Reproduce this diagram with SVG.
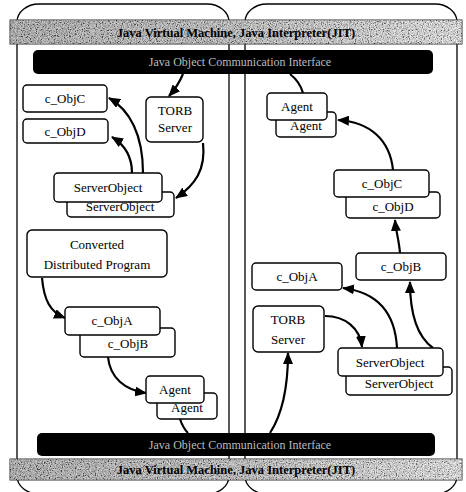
<svg xmlns="http://www.w3.org/2000/svg" width="466" height="492" viewBox="0 0 466 492">
<style>
.col{fill:none;stroke:#000;stroke-width:1.3}
.box{fill:#fff;stroke:#000;stroke-width:1.4}
.t{font-family:"Liberation Serif","Times New Roman",serif;font-size:13px;fill:#000;text-anchor:middle}
.bar{fill:#000}
.bt{font-family:"Liberation Serif",serif;font-size:12px;fill:#bbb;text-anchor:middle}
.gt{font-family:"Liberation Serif",serif;font-size:12.5px;font-weight:bold;fill:#000;text-anchor:middle}
.c{fill:none;stroke:#000;stroke-width:2.2}
.gb{fill:url(#g);stroke:#333;stroke-width:1}
.sp{fill:#000;filter:url(#speck)}
</style>
<defs>
<marker id="ah" viewBox="0 0 12 10" refX="11" refY="5" markerWidth="12" markerHeight="10" markerUnits="userSpaceOnUse" orient="auto">
<path d="M0,0 L12,5 L0,10 Z" fill="#000"/>
</marker>
<linearGradient id="g" x1="0" x2="1" y1="0" y2="0">
<stop offset="0" stop-color="#8c8c8c"/>
<stop offset="0.5" stop-color="#a6a6a6"/>
<stop offset="1" stop-color="#dcdcdc"/>
</linearGradient>
<filter id="speck" x="0" y="0" width="1" height="1">
<feTurbulence type="fractalNoise" baseFrequency="0.85" numOctaves="2" seed="3" result="n"/>
<feColorMatrix in="n" type="matrix" values="2.5 0 0 0 -0.7  2.5 0 0 0 -0.7  2.5 0 0 0 -0.7  0 0 0 0 0.5" result="m"/>
<feComposite in="m" in2="SourceGraphic" operator="in"/>
</filter>
</defs>
<rect width="466" height="492" fill="#fff"/>
<g id="columns">
<rect class="col" x="17" y="4" width="212" height="490" rx="22" ry="18"/>
<rect class="col" x="245" y="4" width="212" height="490" rx="22" ry="18"/>
</g>
<g id="jvm-top">
<rect class="gb" x="10" y="20" width="452" height="24"/>
<rect class="sp" x="10" y="20" width="452" height="24"/>
<text class="gt" x="236" y="37">Java Virtual Machine, Java Interpreter(JIT)</text>
</g>
<g id="interface-top">
<rect class="bar" x="33" y="50" width="400" height="24" rx="5"/>
<text class="bt" x="240" y="66">Java Object Communication Interface</text>
</g>
<g id="interface-bottom">
<rect class="bar" x="37" y="433" width="398" height="23" rx="5"/>
<text class="bt" x="240" y="449">Java Object Communication Interface</text>
</g>
<g id="jvm-bottom">
<rect class="gb" x="10" y="459" width="452" height="21"/>
<rect class="sp" x="10" y="459" width="452" height="21"/>
<text class="gt" x="236" y="474">Java Virtual Machine, Java Interpreter(JIT)</text>
</g>
<g id="connectors">
<path class="c" d="M183,74 Q178,86 169,96" marker-end="url(#ah)"/>
<path class="c" d="M203,143 C206,170 195,185 176,198" marker-end="url(#ah)"/>
<path class="c" d="M143,173 C143,135 130,110 109,98" marker-end="url(#ah)"/>
<path class="c" d="M132,173 C132,158 125,145 112,137" marker-end="url(#ah)"/>
<path class="c" d="M42,278 C44,300 50,312 65,318" marker-end="url(#ah)"/>
<path class="c" d="M108,357 C110,378 125,390 146,393" marker-end="url(#ah)"/>
<path class="c" d="M180,419 Q183,428 188,433"/>
<path class="c" d="M290,74 Q300,82 303,93"/>
<path class="c" d="M393,170 C390,140 370,122 338,120" marker-end="url(#ah)"/>
<path class="c" d="M400,253 C399,240 396,232 395,220" marker-end="url(#ah)"/>
<path class="c" d="M397,348 C395,310 375,292 343,288" marker-end="url(#ah)"/>
<path class="c" d="M433,348 C415,335 410,310 410,282" marker-end="url(#ah)"/>
<path class="c" d="M325,316 C345,316 360,328 362,347" marker-end="url(#ah)"/>
<path class="c" d="M270,433 C285,410 288,380 288,353" marker-end="url(#ah)"/>
</g>
<g id="l-objC"><rect class="box" x="23" y="85" width="84" height="27" rx="4"/><text class="t" x="65" y="103">c_ObjC</text></g>
<g id="l-objD"><rect class="box" x="23" y="119" width="85" height="24" rx="4"/><text class="t" x="65" y="136">c_ObjD</text></g>
<g id="l-torb"><rect class="box" x="146" y="97" width="57" height="45" rx="5"/><text class="t" x="175" y="115">TORB</text><text class="t" x="175" y="132">Server</text></g>
<g id="l-serverobject-2"><rect class="box" x="67" y="192" width="107" height="25" rx="4"/><text class="t" x="120" y="211">ServerObject</text></g>
<g id="l-serverobject-1"><rect class="box" x="54" y="173" width="108" height="29" rx="4"/><text class="t" x="108" y="192">ServerObject</text></g>
<g id="l-converted"><rect class="box" x="27" y="230" width="140" height="47" rx="5"/><text class="t" x="97" y="249">Converted</text><text class="t" x="97" y="269">Distributed Program</text></g>
<g id="l-objB"><rect class="box" x="80" y="328" width="95" height="29" rx="4"/><text class="t" x="128" y="348">c_ObjB</text></g>
<g id="l-objA"><rect class="box" x="65" y="307" width="95" height="28" rx="4"/><text class="t" x="112" y="325">c_ObjA</text></g>
<g id="l-agent-2"><rect class="box" x="157" y="393" width="60" height="26" rx="4"/><text class="t" x="187" y="412">Agent</text></g>
<g id="l-agent-1"><rect class="box" x="146" y="376" width="58" height="27" rx="4"/><text class="t" x="175" y="394">Agent</text></g>
<g id="r-agent-2"><rect class="box" x="276" y="112" width="60" height="25" rx="4"/><text class="t" x="306" y="130">Agent</text></g>
<g id="r-agent-1"><rect class="box" x="267" y="93" width="60" height="27" rx="4"/><text class="t" x="297" y="111">Agent</text></g>
<g id="r-objD"><rect class="box" x="346" y="192" width="94" height="26" rx="4"/><text class="t" x="393" y="211">c_ObjD</text></g>
<g id="r-objC"><rect class="box" x="334" y="170" width="95" height="27" rx="4"/><text class="t" x="382" y="188">c_ObjC</text></g>
<g id="r-objB"><rect class="box" x="356" y="253" width="90" height="27" rx="4"/><text class="t" x="401" y="271">c_ObjB</text></g>
<g id="r-objA"><rect class="box" x="252" y="263" width="90" height="27" rx="4"/><text class="t" x="297" y="281">c_ObjA</text></g>
<g id="r-torb"><rect class="box" x="253" y="306" width="71" height="46" rx="5"/><text class="t" x="288" y="324">TORB</text><text class="t" x="288" y="344">Server</text></g>
<g id="r-serverobject-2"><rect class="box" x="346" y="367" width="106" height="28" rx="4"/><text class="t" x="399" y="388">ServerObject</text></g>
<g id="r-serverobject-1"><rect class="box" x="338" y="348" width="105" height="28" rx="4"/><text class="t" x="390" y="367">ServerObject</text></g>
</svg>
